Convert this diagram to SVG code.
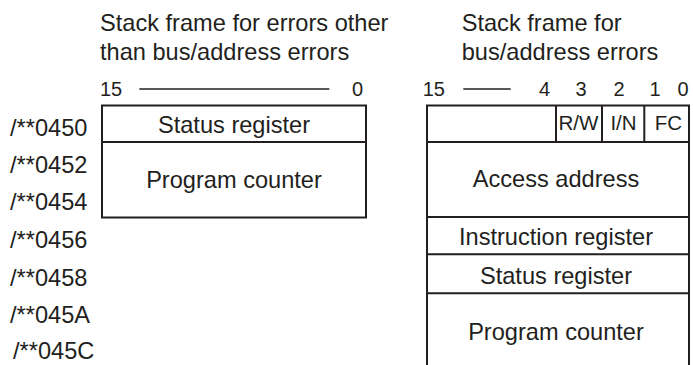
<svg xmlns="http://www.w3.org/2000/svg" width="693" height="365" viewBox="0 0 693 365">
<style>
text{font-family:"Liberation Sans",Arial,Helvetica,sans-serif;fill:#231f20}
.t{font-size:23.6px}
.b{font-size:23.6px;text-anchor:middle}
.n{font-size:20px}
.nm{font-size:20px;text-anchor:middle}
.s{font-size:20.5px;text-anchor:middle}
.ln{stroke:#231f20;stroke-width:2;fill:none}
.rl{stroke:#231f20;stroke-width:1.3;fill:none}
</style>
<rect width="693" height="365" fill="#fff"/>
<g id="title-left">
<text class="t" x="100" y="30.5">Stack frame for errors other</text>
<text class="t" x="100" y="59.5">than bus/address errors</text>
</g>
<g id="title-right">
<text class="t" x="461.7" y="30.5">Stack frame for</text>
<text class="t" x="461.7" y="59.5">bus/address errors</text>
</g>
<g id="bits-left">
<text class="n" x="100" y="95.5">15</text>
<line class="rl" x1="139.3" y1="89" x2="329.3" y2="89"/>
<text class="n" x="352" y="95.5">0</text>
</g>
<g id="bits-right">
<text class="n" x="422.7" y="95.5">15</text>
<line class="rl" x1="463.3" y1="89" x2="510.7" y2="89"/>
<text class="nm" x="544.5" y="95.5">4</text>
<text class="nm" x="581" y="95.5">3</text>
<text class="nm" x="619" y="95.5">2</text>
<text class="nm" x="655" y="95.5">1</text>
<text class="nm" x="683" y="95.5">0</text>
</g>
<g id="addresses">
<text class="t" x="10" y="136">/**0450</text>
<text class="t" x="10" y="173">/**0452</text>
<text class="t" x="10" y="210">/**0454</text>
<text class="t" x="10" y="248">/**0456</text>
<text class="t" x="10" y="285.5">/**0458</text>
<text class="t" x="10" y="322.5">/**045A</text>
<text class="t" x="13" y="359">/**045C</text>
</g>
<g id="frame-left">
<rect class="ln" x="102" y="105.5" width="264" height="112"/>
<line class="ln" x1="102" y1="142" x2="366" y2="142"/>
<text class="b" x="234" y="132.5">Status register</text>
<text class="b" x="234" y="188">Program counter</text>
</g>
<g id="frame-right">
<path class="ln" d="M427 365V105.5H689V365"/>
<line class="ln" x1="427" y1="142" x2="689" y2="142"/>
<line class="ln" x1="556" y1="105.5" x2="556" y2="142"/>
<line class="ln" x1="602" y1="105.5" x2="602" y2="142"/>
<line class="ln" x1="644.3" y1="105.5" x2="644.3" y2="142"/>
<line class="ln" x1="427" y1="217" x2="689" y2="217"/>
<line class="ln" x1="427" y1="254.3" x2="689" y2="254.3"/>
<line class="ln" x1="427" y1="293.3" x2="689" y2="293.3"/>
<text class="s" x="578.5" y="130" textLength="40" lengthAdjust="spacingAndGlyphs">R/W</text>
<text class="s" x="623.5" y="130">I/N</text>
<text class="s" x="668.5" y="130">FC</text>
<text class="b" x="556" y="187">Access address</text>
<text class="b" x="556" y="245">Instruction register</text>
<text class="b" x="556" y="283.5">Status register</text>
<text class="b" x="556" y="340">Program counter</text>
</g>
</svg>
